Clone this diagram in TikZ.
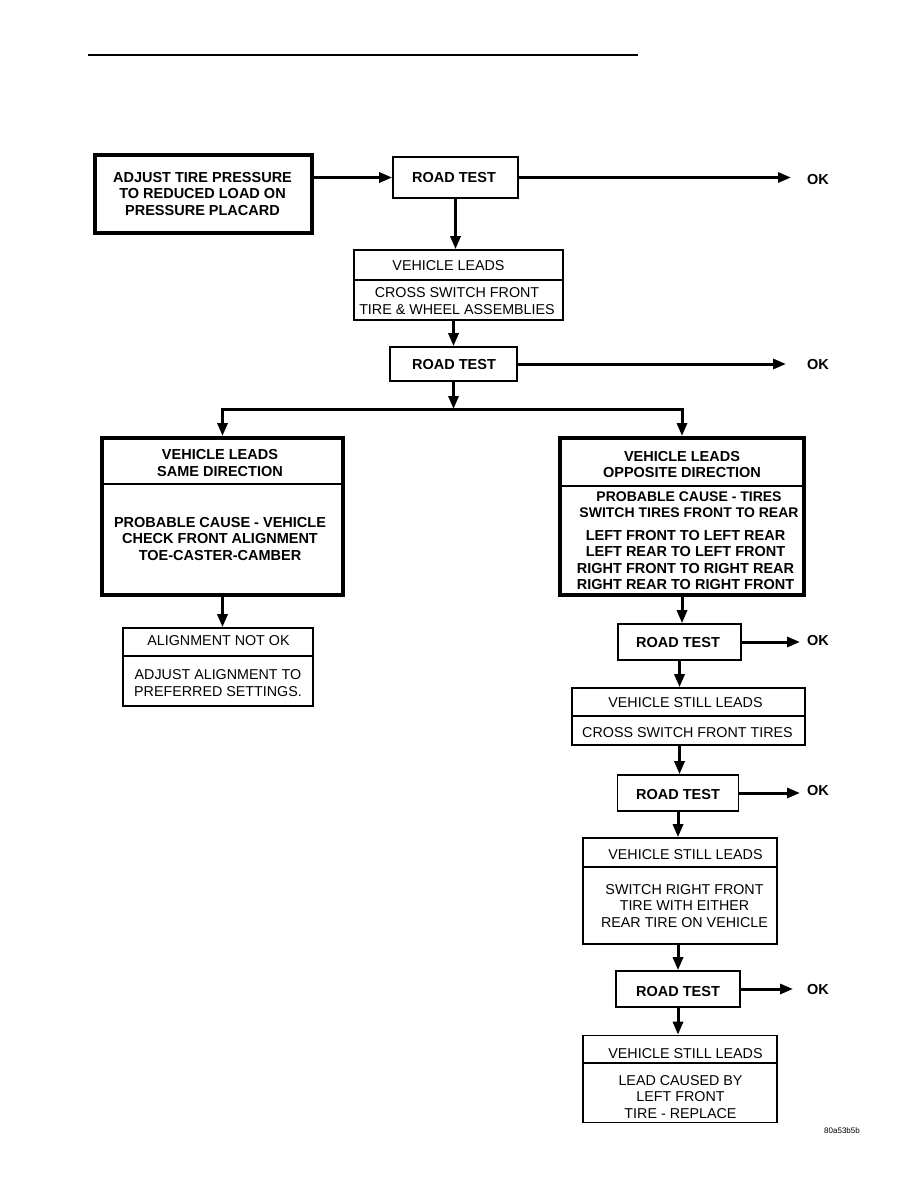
\documentclass[tikz,border=0pt]{standalone}
\usepackage{fontspec}
\setmainfont{Liberation Sans}
\usetikzlibrary{arrows.meta}
\begin{document}
\begin{tikzpicture}[x=1pt,y=-1pt,
  thinbox/.style={draw, line width=1.6pt, inner sep=0pt},
  thickbox/.style={draw, line width=4pt, inner sep=0pt},
  bt/.style={font=\fontsize{14.5}{16.5}\selectfont\bfseries, align=center, inner sep=0pt},
  rt/.style={font=\fontsize{14.3}{16.5}\selectfont, align=center, inner sep=0pt},
  arr/.style={line width=3pt, line join=miter, -{Triangle[length=13pt,width=10pt]}},
  divider/.style={line width=1.6pt},
  oktext/.style={font=\fontsize{14.5}{16.5}\selectfont\bfseries, anchor=west, inner sep=0pt}]
\useasboundingbox (0,0) rectangle (918,1188);
\fill[white] (0,0) rectangle (918,1188);
% top rule
\coordinate (ruleL) at (88,55);
\coordinate (ruleR) at (638,55);
\draw[line width=2pt] (ruleL) -- (ruleR);

% Boxes
\node[thickbox, minimum width=217, minimum height=78] (A) at (203.5,194) {};
\node[thinbox, minimum width=125, minimum height=41] (RT1) at (455.5,177.5) {};
\node[thinbox, minimum width=209, minimum height=70] (VL1) at (458.5,285) {};
\node[thinbox, minimum width=127, minimum height=34] (RT2) at (453.5,364) {};
\node[thickbox, minimum width=241, minimum height=157] (LB) at (222.5,516.5) {};
\node[thickbox, minimum width=244, minimum height=157] (RB) at (682,516.5) {};
\node[thinbox, minimum width=190, minimum height=78] (AL) at (218,667) {};
\node[thinbox, minimum width=123, minimum height=36] (RT3) at (679.5,642) {};
\node[thinbox, minimum width=233, minimum height=57] (VSL1) at (688.5,716.5) {};
\node[thinbox, minimum width=121, minimum height=36] (RT4) at (678,793) {};
\node[thinbox, minimum width=194, minimum height=106] (VSL2) at (680,891) {};
\node[thinbox, minimum width=124, minimum height=36] (RT5) at (678,989) {};
\node[thinbox, minimum width=194, minimum height=87] (VSL3) at (680,1079) {};

% dividers
\draw[divider] (VL1.west |- 0,280) -- (VL1.east |- 0,280);
\draw[divider] (LB.west |- 0,484) -- (LB.east |- 0,484);
\draw[divider] (RB.west |- 0,486) -- (RB.east |- 0,486);
\draw[divider] (AL.west |- 0,656) -- (AL.east |- 0,656);
\draw[divider] (VSL1.west |- 0,716) -- (VSL1.east |- 0,716);
\draw[divider] (VSL2.west |- 0,867) -- (VSL2.east |- 0,867);
\draw[divider] (VSL3.west |- 0,1063) -- (VSL3.east |- 0,1063);

% texts
\node[bt] (At) at (202.5,194) {ADJUST TIRE PRESSURE\\TO REDUCED LOAD ON\\PRESSURE PLACARD};
\node[bt] (RT1t) at (454,178) {ROAD TEST};
\node[rt] (VL1a) at (448.5,266) {VEHICLE LEADS};
\node[rt] (VL1b) at (457,301) {CROSS SWITCH FRONT\\TIRE \& WHEEL ASSEMBLIES};
\node[bt] (RT2t) at (454,365) {ROAD TEST};
\node[bt] (LBa) at (220,463) {VEHICLE LEADS\\SAME DIRECTION};
\node[bt] (LBb) at (220,539) {PROBABLE CAUSE - VEHICLE\\CHECK FRONT ALIGNMENT\\TOE-CASTER-CAMBER};
\node[bt] (RBa) at (682,464.5) {VEHICLE LEADS\\OPPOSITE DIRECTION};
\node[bt, font=\fontsize{14}{16.5}\selectfont\bfseries] (RBb) at (689,504.5) {PROBABLE CAUSE - TIRES\\SWITCH TIRES FRONT TO REAR};
\node[bt] (RBc) at (685.5,560) {LEFT FRONT TO LEFT REAR\\LEFT REAR TO LEFT FRONT\\RIGHT FRONT TO RIGHT REAR\\RIGHT REAR TO RIGHT FRONT};
\node[rt] (ALa) at (218.5,641) {ALIGNMENT NOT OK};
\node[rt] (ALb) at (218,683) {ADJUST ALIGNMENT TO\\PREFERRED SETTINGS.};
\node[bt] (RT3t) at (678,643) {ROAD TEST};
\node[rt] (VSL1a) at (685.5,703) {VEHICLE STILL LEADS};
\node[rt] (VSL1b) at (687.5,733) {CROSS SWITCH FRONT TIRES};
\node[bt] (RT4t) at (678,794) {ROAD TEST};
\node[rt] (VSL2a) at (685.5,855) {VEHICLE STILL LEADS};
\node[rt] (VSL2b) at (684.5,906) {SWITCH RIGHT FRONT\\TIRE WITH EITHER\\REAR TIRE ON VEHICLE};
\node[bt] (RT5t) at (678,991) {ROAD TEST};
\node[rt] (VSL3a) at (685.5,1054) {VEHICLE STILL LEADS};
\node[rt] (VSL3b) at (680.5,1097) {LEAD CAUSED BY\\LEFT FRONT\\TIRE - REPLACE};

% OK labels
\node[oktext] (ok1) at (807,180) {OK};
\node[oktext] (ok2) at (807,365) {OK};
\node[oktext] (ok3) at (807,641) {OK};
\node[oktext] (ok4) at (807,790) {OK};
\node[oktext] (ok5) at (807,989) {OK};

\node[font=\fontsize{8}{9}\selectfont, inner sep=0pt] (code) at (842,1131) {80a53b5b};

% connectors
\draw[arr] (A.east |- RT1.west) -- (RT1.west);
\draw[arr, shorten >=16pt] (RT1.east) -- (RT1.east -| ok1.west);
\draw[arr] (RT1.south) -- (RT1.south |- VL1.north);
\draw[arr] (RT2.north |- VL1.south) -- (RT2.north);
\draw[arr, shorten >=21pt] (RT2.east) -- (RT2.east -| ok2.west);
\coordinate (jm) at (RT2.south |- 0,409);
\coordinate (jl) at (LB.north |- 0,409);
\coordinate (jr) at (RB.north |- 0,409);
\draw[arr] (RT2.south) -- (jm);
\draw[arr] (jm) -- (jl) -- (LB.north);
\draw[arr] (jm) -- (jr) -- (RB.north);
\draw[arr] (LB.south) -- (LB.south |- AL.north);
\draw[arr] (RB.south) -- (RB.south |- RT3.north);
\draw[arr, shorten >=7pt] (RT3.east) -- (RT3.east -| ok3.west);
\draw[arr] (RT3.south) -- (RT3.south |- VSL1.north);
\draw[arr] (RT3.south |- VSL1.south) -- (RT3.south |- RT4.north);
\draw[arr, shorten >=7pt] (RT4.east) -- (RT4.east -| ok4.west);
\draw[arr] (RT4.south) -- (RT4.south |- VSL2.north);
\draw[arr] (RT4.south |- VSL2.south) -- (RT4.south |- RT5.north);
\draw[arr, shorten >=14pt] (RT5.east) -- (RT5.east -| ok5.west);
\draw[arr] (RT5.south) -- (RT5.south |- VSL3.north);
\end{tikzpicture}
\end{document}
